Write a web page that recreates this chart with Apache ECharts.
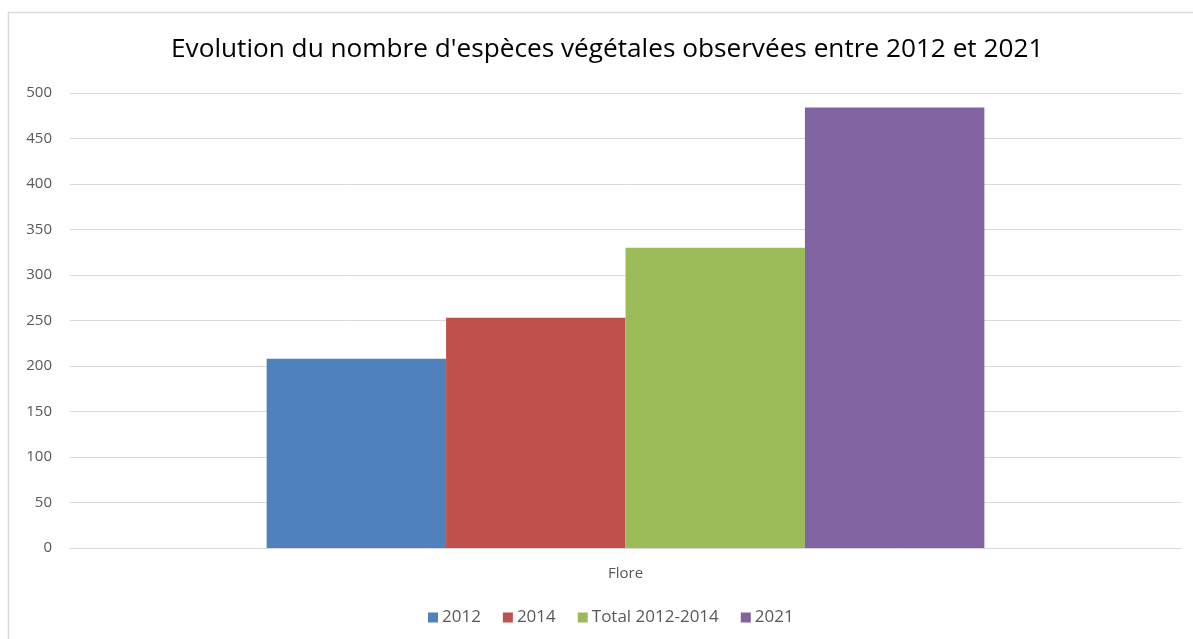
<!DOCTYPE html>
<html>
<head>
<meta charset="utf-8">
<script src="https://cdn.jsdelivr.net/npm/echarts@6/dist/echarts.min.js"></script>
<style>
  html, body { margin: 0; padding: 0; background: #ffffff; }
  #chart { width: 1193px; height: 639px; }
</style>
</head>
<body>
<div id="chart"></div>
<script>
// Number of plant species observed, per survey
const categories = ['Flore'];
const seriesNames = ['2012', '2014', 'Total 2012-2014', '2021'];
const values2012 = [208];
const values2014 = [253];
const valuesTotal = [330];
const values2021 = [484];
const seriesColors = ['#4f81bd', '#c0504d', '#9bbb59', '#8064a2'];
const yTicks = { min: 0, max: 500, interval: 50 };

const allValues = [values2012, values2014, valuesTotal, values2021];
const FONT = '"Open Sans", "Noto Sans", sans-serif';

const chart = echarts.init(document.getElementById('chart'));
chart.setOption({
  animation: false,
  backgroundColor: '#ffffff',
  textStyle: { fontFamily: FONT },
  graphic: [{
    type: 'rect',
    shape: { x: 8.5, y: 12.5, width: 1300, height: 800 },
    style: { fill: 'none', stroke: '#d9d9d9', lineWidth: 1.5 },
    silent: true,
    z: -10
  }],
  title: {
    text: "Evolution du nombre d'espèces végétales observées entre 2012 et 2021",
    left: 171,
    top: 37,
    padding: 0,
    textStyle: { fontFamily: FONT, fontSize: 26.2, fontWeight: 'normal', color: '#000000' }
  },
  legend: {
    bottom: 13,
    left: 428,
    padding: 0,
    itemWidth: 10,
    itemHeight: 10,
    itemGap: 22,
    icon: 'rect',
    data: seriesNames,
    textStyle: { fontFamily: FONT, fontSize: 17, color: '#595959', padding: [0, 0, 0, -1] }
  },
  grid: { left: 70, right: 12, top: 93, bottom: 91, containLabel: false },
  xAxis: {
    type: 'category',
    data: categories,
    axisTick: { show: false },
    axisLine: { show: true, lineStyle: { color: '#d9d9d9', width: 1 } },
    axisLabel: { fontFamily: FONT, fontSize: 15, color: '#595959', margin: 18 }
  },
  yAxis: {
    type: 'value',
    min: yTicks.min,
    max: yTicks.max,
    interval: yTicks.interval,
    axisLine: { show: false },
    axisTick: { show: false },
    splitLine: { lineStyle: { color: '#d9d9d9', width: 1 } },
    axisLabel: { fontFamily: FONT, fontSize: 15, color: '#595959', margin: 18 }
  },
  series: seriesNames.map((name, i) => ({
    name: name,
    type: 'bar',
    data: allValues[i],
    barGap: '0%',
    barCategoryGap: '35.4%',
    itemStyle: { color: seriesColors[i] }
  }))
});
</script>
</body>
</html>
